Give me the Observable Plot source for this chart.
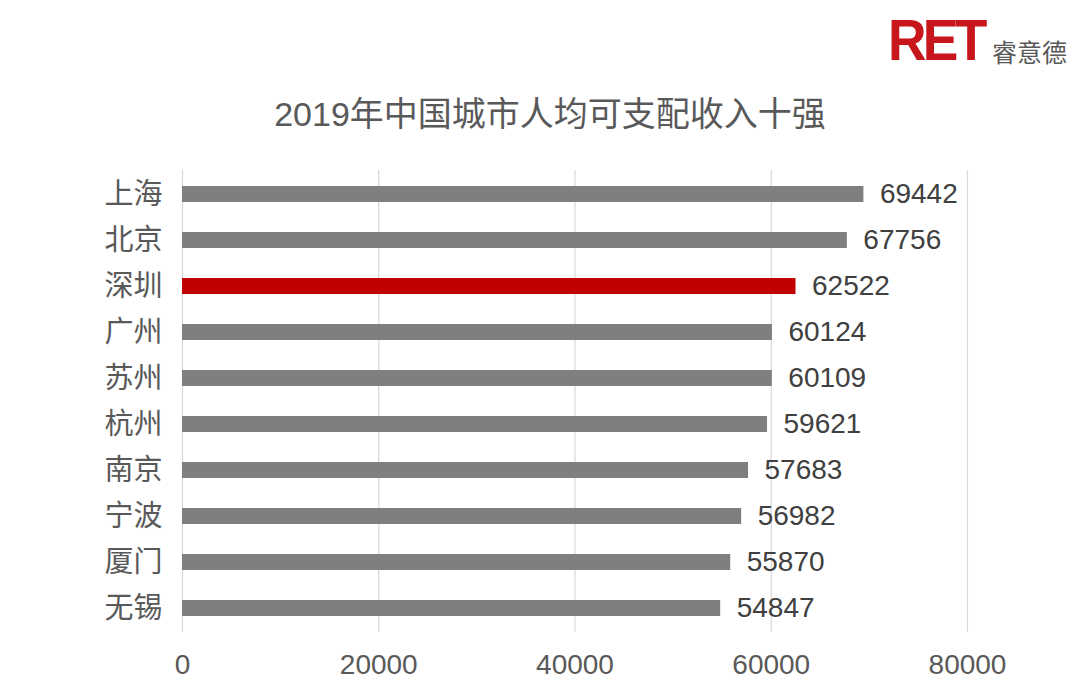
<!DOCTYPE html>
<html><head><meta charset="utf-8">
<script src="https://cdn.jsdelivr.net/npm/d3@7"></script>
<script src="https://cdn.jsdelivr.net/npm/@observablehq/plot@0.6"></script>
<style>
body{margin:0;background:#fff;}
#wrap{position:relative;width:1080px;height:691px;overflow:hidden;font-family:"Liberation Sans","Noto Sans CJK SC",sans-serif;}
#title{position:absolute;left:0;width:1100px;top:92px;text-align:center;font-size:34px;color:#595959;line-height:44px;}
#logo{position:absolute;left:888px;top:6px;white-space:nowrap;}
#logo .r{font-family:"Liberation Sans",sans-serif;font-weight:bold;font-size:58px;color:#c8161d;letter-spacing:-4px;display:inline-block;transform:scaleX(0.92);transform-origin:left;}
#logo .c{position:absolute;left:104px;top:27px;font-family:"Noto Sans CJK SC",sans-serif;font-size:25px;color:#595959;}
#chart{position:absolute;left:0;top:0;}
</style></head>
<body><div id="wrap"><div id="chart"></div><div id="title">2019年中国城市人均可支配收入十强</div><div id="logo"><span class="r">RET</span><span class="c">睿意德</span></div></div>
<script>
const cities = ["上海","北京","深圳","广州","苏州","杭州","南京","宁波","厦门","无锡"];
const income = [69442,67756,62522,60124,60109,59621,57683,56982,55870,54847];
const highlight = "深圳";
const xTicks = [0,20000,40000,60000,80000];

const data = cities.map((c,i)=>({city:c, value:income[i]}));

const chart = Plot.plot({
  width:1080, height:691,
  marginLeft:182, marginRight:113, marginTop:170, marginBottom:59,
  style:{fontFamily:'"Liberation Sans","Noto Sans CJK SC",sans-serif', background:"transparent"},
  x:{domain:[0,80000], ticks:xTicks, tickFormat:d=>String(d), label:null},
  y:{domain:cities, paddingInner:0.65, paddingOuter:0.325, label:null},
  marks:[
    Plot.ruleX(xTicks,{stroke:"#d9d9d9", strokeWidth:1.2}),
    Plot.barX(data,{y:"city", x:"value", fill:d=>d.city===highlight?"#c00000":"#7f7f7f"}),
    Plot.text(data,{y:"city", x:"value", text:d=>String(d.value), textAnchor:"start", dx:16, fontSize:28, fill:"#404040"}),
    Plot.axisX({ticks:xTicks, tickSize:0, tickPadding:22, fontSize:28, color:"#595959", tickFormat:d=>String(d), label:null}),
    Plot.axisY({tickSize:0, tickPadding:20, fontSize:29, color:"#595959", label:null})
  ]
});
document.getElementById("chart").appendChild(chart);
</script></body></html>
